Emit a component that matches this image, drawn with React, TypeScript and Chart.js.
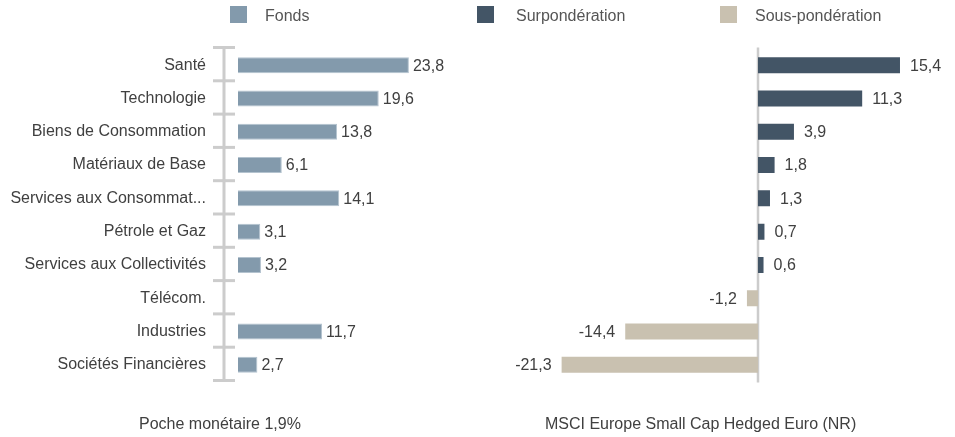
import React, { useEffect, useRef } from "react";
import { Chart, registerables } from "chart.js";

Chart.register(...registerables);

const categories = [
  "Santé",
  "Technologie",
  "Biens de Consommation",
  "Matériaux de Base",
  "Services aux Consommat...",
  "Pétrole et Gaz",
  "Services aux Collectivités",
  "Télécom.",
  "Industries",
  "Sociétés Financières",
];
const fondsValues: (number | null)[] = [23.8, 19.6, 13.8, 6.1, 14.1, 3.1, 3.2, null, 11.7, 2.7];
const ecartValues: number[] = [15.4, 11.3, 3.9, 1.8, 1.3, 0.7, 0.6, -1.2, -14.4, -21.3];
const surValues = ecartValues.map((v) => (v >= 0 ? v : null));
const sousValues = ecartValues.map((v) => (v < 0 ? v : null));

const FONT = "'Liberation Sans', Arial, sans-serif";
const TEXT = "#404040";
const COL_FONDS = "#839aac";
const COL_SUR = "#435566";
const COL_SOUS = "#c9c1b0";

const W = 955;
const H = 437;
const TOP = 48.5;
const BOTTOM = 381.5;

const fmt = (v: number) => v.toFixed(1).replace(".", ",");

function makeLabelPlugin(gap: number) {
  return {
    id: "valueLabels",
    afterDatasetsDraw(chart: any) {
      const ctx = chart.ctx;
      ctx.save();
      ctx.font = `16px ${FONT}`;
      ctx.fillStyle = TEXT;
      ctx.textBaseline = "middle";
      chart.data.datasets.forEach((ds: any, di: number) => {
        const meta = chart.getDatasetMeta(di);
        meta.data.forEach((el: any, i: number) => {
          const v = ds.data[i];
          if (v === null || v === undefined) return;
          if (v >= 0) {
            ctx.textAlign = "left";
            ctx.fillText(fmt(v), el.x + gap, el.y + 1);
          } else {
            ctx.textAlign = "right";
            ctx.fillText(fmt(v), el.x - gap, el.y + 1);
          }
        });
      });
      ctx.restore();
    },
  };
}

const leftAxisPlugin = {
  id: "leftAxis",
  beforeDatasetsDraw(chart: any) {
    const { ctx, chartArea } = chart;
    const n = categories.length;
    const x = chartArea.left - 14;
    const top = chartArea.top - 1;
    const bottom = chartArea.bottom - 1;
    ctx.save();
    ctx.strokeStyle = "#cccccc";
    ctx.lineWidth = 3;
    ctx.beginPath();
    ctx.moveTo(x, top);
    ctx.lineTo(x, bottom);
    ctx.stroke();
    for (let i = 0; i <= n; i++) {
      const y = top + (i * (bottom - top)) / n;
      ctx.beginPath();
      ctx.moveTo(x - 11, y);
      ctx.lineTo(x + 11, y);
      ctx.stroke();
    }
    ctx.restore();
  },
};

const zeroLinePlugin = {
  id: "zeroLine",
  beforeDatasetsDraw(chart: any) {
    const { ctx, chartArea, scales } = chart;
    const x = scales.x.getPixelForValue(0);
    ctx.save();
    ctx.strokeStyle = "#cccccc";
    ctx.lineWidth = 2.5;
    ctx.beginPath();
    ctx.moveTo(x, chartArea.top - 1);
    ctx.lineTo(x, chartArea.bottom + 1);
    ctx.stroke();
    ctx.restore();
  },
};

export default function App() {
  const leftRef = useRef<HTMLCanvasElement>(null);
  const rightRef = useRef<HTMLCanvasElement>(null);

  useEffect(() => {
    const left = new Chart(leftRef.current!, {
      type: "bar",
      data: {
        labels: categories,
        datasets: [
          {
            label: "Fonds",
            data: fondsValues,
            backgroundColor: COL_FONDS,
            borderColor: "#b4c3cf",
            borderWidth: 1,
            categoryPercentage: 1,
            barPercentage: 0.48,
          },
        ],
      },
      options: {
        indexAxis: "y",
        responsive: false,
        animation: false,
        events: [],
        layout: { padding: { left: 0, top: TOP, right: W - 238 - 30 * 7.18, bottom: H - BOTTOM } },
        plugins: { legend: { display: false }, tooltip: { enabled: false } },
        scales: {
          x: { display: false, min: 0, max: 30 },
          y: {
            display: true,
            grid: { display: false, drawTicks: false },
            border: { display: false },
            ticks: { color: TEXT, font: { family: FONT, size: 16 }, padding: 32 },
            afterFit: (s: any) => {
              s.width = 238;
            },
          },
        },
      } as any,
      plugins: [leftAxisPlugin, makeLabelPlugin(4)],
    });

    const right = new Chart(rightRef.current!, {
      type: "bar",
      data: {
        labels: categories,
        datasets: [
          {
            label: "Surpondération",
            data: surValues,
            backgroundColor: COL_SUR,
            categoryPercentage: 1,
            barPercentage: 0.48,
          },
          {
            label: "Sous-pondération",
            data: sousValues,
            backgroundColor: COL_SOUS,
            categoryPercentage: 1,
            barPercentage: 0.48,
          },
        ],
      },
      options: {
        indexAxis: "y",
        responsive: false,
        animation: false,
        events: [],
        layout: {
          padding: { left: 758 - 30 * 9.22, top: TOP, right: W - (758 + 20 * 9.22), bottom: H - BOTTOM },
        },
        plugins: { legend: { display: false }, tooltip: { enabled: false } },
        scales: {
          x: { display: false, min: -30, max: 20, stacked: true },
          y: { display: false, stacked: true },
        },
      } as any,
      plugins: [zeroLinePlugin, makeLabelPlugin(10)],
    });

    return () => {
      left.destroy();
      right.destroy();
    };
  }, []);

  const legendItems = [
    { label: "Fonds", color: COL_FONDS, sx: 230, tx: 265 },
    { label: "Surpondération", color: COL_SUR, sx: 477, tx: 516 },
    { label: "Sous-pondération", color: COL_SOUS, sx: 720, tx: 755 },
  ];

  const textStyle: React.CSSProperties = {
    position: "absolute",
    fontFamily: FONT,
    fontSize: 16,
    color: TEXT,
    whiteSpace: "nowrap",
    lineHeight: "18px",
  };

  return (
    <div style={{ position: "absolute", left: 0, top: 0, width: W, height: H, background: "#ffffff" }}>
      <canvas ref={leftRef} width={W} height={H} style={{ position: "absolute", left: 0, top: 0, display: "block" }} />
      <canvas ref={rightRef} width={W} height={H} style={{ position: "absolute", left: 0, top: 0, display: "block" }} />
      {legendItems.map((it) => (
        <React.Fragment key={it.label}>
          <div style={{ position: "absolute", left: it.sx, top: 6, width: 17, height: 17, background: it.color }} />
          <div style={{ ...textStyle, left: it.tx, top: 7, color: "#555555" }}>{it.label}</div>
        </React.Fragment>
      ))}
      <div style={{ ...textStyle, left: 139, top: 415 }}>Poche monétaire 1,9%</div>
      <div style={{ ...textStyle, left: 545, top: 415 }}>MSCI Europe Small Cap Hedged Euro (NR)</div>
    </div>
  );
}
